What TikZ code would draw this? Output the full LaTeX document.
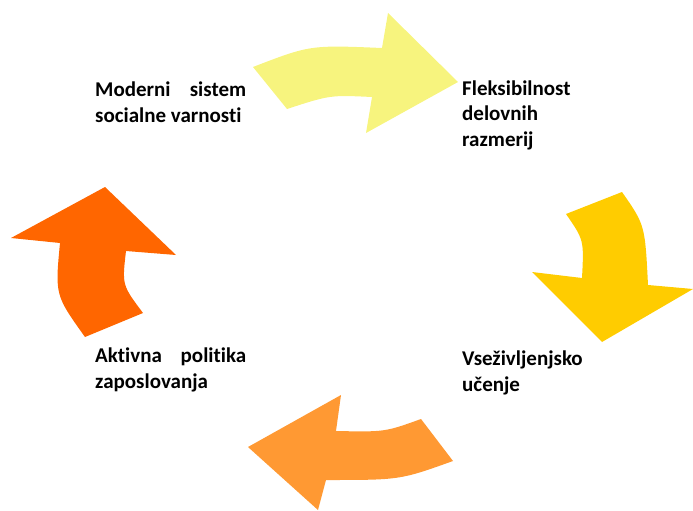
\documentclass[tikz,border=0pt]{standalone}
\usepackage{fontspec}
\setmainfont{Carlito}[Ligatures=NoCommon]
\usepackage{tikz}
\definecolor{armyellow}{HTML}{F7F47E}
\definecolor{armgold}{HTML}{FFCC00}
\definecolor{armlorange}{HTML}{FF9933}
\definecolor{armdorange}{HTML}{FF6600}

\begin{document}
\begin{tikzpicture}[x=1pt, y=-1pt, cyclabel/.style={anchor=base west, inner sep=0pt, align=left, font=\fontsize{21}{25.5}\selectfont\bfseries}]
\useasboundingbox (0,0) rectangle (693,511);

% arrows
\fill[armyellow] (253,67) .. controls (310,45) .. (382,48) -- (388,13) -- (458,82) -- (366,133) -- (372,97) .. controls (330,95) .. (287,109) -- cycle;
\fill[armgold] (566,214) -- (622,192) .. controls (645,225) .. (648,285) -- (693,289) -- (602,342) -- (532,272) -- (582,278) .. controls (584,240) .. (566,214) -- cycle;
\fill[armlorange] (421,419) -- (453,461) .. controls (400,480) .. (326,480) -- (318,510) -- (248,447) -- (341,395) -- (336,431) .. controls (385,432) .. (421,419) -- cycle;
\fill[armdorange] (85,337) -- (143,313) .. controls (122,285) .. (126,251) -- (176,255) -- (105,187) -- (11,238) -- (60,243) .. controls (55,295) .. (85,337) -- cycle;

% labels (anchored at the last line)
\node (Social) [cyclabel] at (95,122) {\hbox to 151pt{Moderni\hfil sistem}\\socialne varnosti};
\node (Flex) [cyclabel] at (462,146) {Fleksibilnost\\delovnih\\razmerij};
\node (Learn) [cyclabel] at (462,391) {Vseživljenjsko\\učenje};
\node (Active) [cyclabel] at (95,388) {\hbox to 151pt{Aktivna\hfil politika}\\zaposlovanja};

\end{tikzpicture}
\end{document}
